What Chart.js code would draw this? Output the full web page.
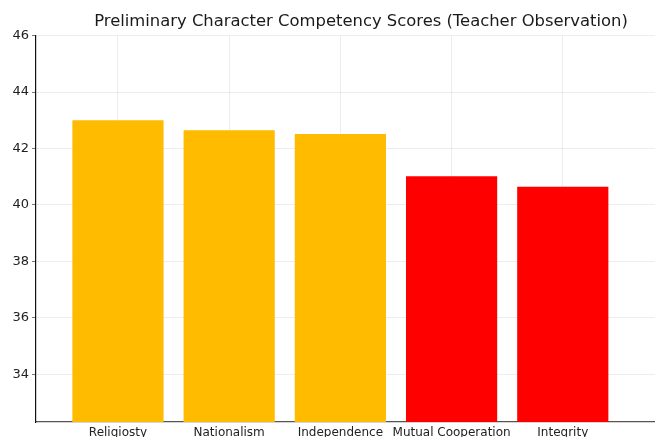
<!DOCTYPE html>
<html>
<head>
<meta charset="utf-8">
<script src="https://cdn.jsdelivr.net/npm/chart.js@4/dist/chart.umd.min.js"></script>
<style>
  html, body { margin: 0; padding: 0; background: #fff; overflow: hidden; }
  #wrap { width: 655px; height: 437px; overflow: hidden; }
  canvas { display: block; }
</style>
</head>
<body>
<div id="wrap"><canvas id="c" width="722" height="452"></canvas></div>
<script>
const categories = ["Religiosty", "Nationalism", "Independence", "Mutual Cooperation", "Integrity"];
const scores = [43.0, 42.65, 42.52, 41.02, 40.65];
const yTicks = [34, 36, 38, 40, 42, 44, 46];

const ORANGE = "#FEBB00";
const RED = "#FF0000";
const FONT = "'DejaVu Sans', sans-serif";

const points = categories.map((c, i) => ({ x: i, y: scores[i] }));
const colors = scores.map((v, i) => (i < 3 ? ORANGE : RED));

new Chart(document.getElementById("c"), {
  type: "bar",
  data: {
    datasets: [{
      data: points,
      backgroundColor: colors,
      borderWidth: 0,
      barPercentage: 0.82,
      categoryPercentage: 1.0
    }]
  },
  options: {
    responsive: false,
    animation: false,
    devicePixelRatio: 1,
    layout: { padding: 0 },
    plugins: {
      legend: { display: false },
      tooltip: { enabled: false },
      title: {
        display: true,
        text: "Preliminary Character Competency Scores (Teacher Observation)",
        color: "#1a1a1a",
        font: { family: FONT, size: 16.4, weight: "normal" },
        padding: { top: 12, bottom: 4 }
      }
    },
    scales: {
      x: {
        type: "linear",
        offset: false,
        min: -0.737,
        max: 5.108,
        afterBuildTicks: (s) => { s.ticks = categories.map((c, i) => ({ value: i })); },
        afterFit: (s) => { s.height = 30; },
        ticks: {
          callback: (v) => categories[v],
          color: "#222",
          font: { family: FONT, size: 12 },
          padding: 4,
          maxRotation: 0,
          autoSkip: false
        },
        grid: {
          offset: false,
          color: "rgba(0,0,0,0.07)",
          drawTicks: false
        },
        border: { display: true, color: "#555", width: 1.2 }
      },
      y: {
        type: "linear",
        min: 32.31,
        max: 46,
        afterBuildTicks: (s) => { s.ticks = yTicks.map(v => ({ value: v })); },
        afterFit: (s) => { s.width = 36; },
        ticks: {
          color: "#222",
          font: { family: FONT, size: 13 },
          padding: 3
        },
        grid: {
          color: "rgba(0,0,0,0.07)",
          tickColor: "#777",
          tickLength: 4,
          drawTicks: true
        },
        border: { display: true, color: "#111", width: 1.2 }
      },
      yr: {
        type: "linear",
        position: "right",
        display: true,
        afterFit: (s) => { s.width = 36; },
        ticks: { display: false },
        grid: { display: false, drawOnChartArea: false },
        border: { display: false }
      }
    }
  }
});
</script>
</body>
</html>
